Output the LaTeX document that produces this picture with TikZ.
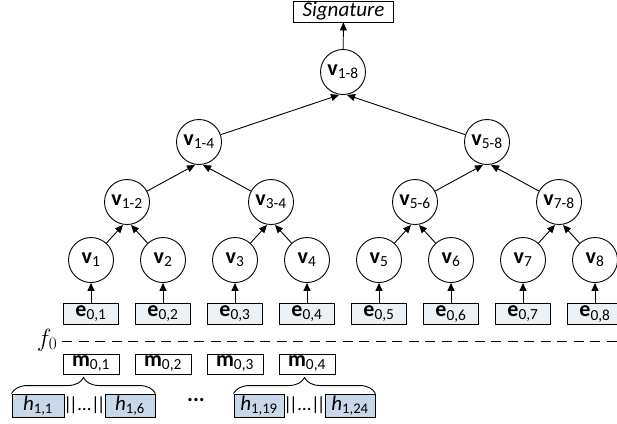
\documentclass[tikz,border=0pt]{standalone}
\usepackage{fontspec}
\setmainfont{Carlito}
\usetikzlibrary{arrows.meta,decorations.pathreplacing}
\definecolor{eFill}{RGB}{236,241,245}
\definecolor{hFill}{RGB}{200,216,232}
\newcommand{\vlab}[1]{\textbf{v}\textsubscript{#1}}
\newcommand{\elab}[1]{\textbf{e}\textsubscript{0,#1}}
\newcommand{\mlab}[1]{\textbf{m}\textsubscript{0,#1}}
\newcommand{\hlab}[1]{\textit{h}\textsubscript{1,#1}}
\newcommand{\bars}{\textbar\kern-3pt\textbar}

\begin{document}
\begin{tikzpicture}[x=1pt,y=-1pt,line width=0.9pt,>={Triangle[length=8pt,width=7pt]},
  font=\fontsize{22}{26}\selectfont,
  v node/.style={circle,draw,minimum size=45pt,inner sep=0pt},
  e node/.style={draw,fill=eFill,minimum width=55pt,minimum height=21pt,inner sep=0pt},
  m node/.style={draw,fill=white,minimum width=56pt,minimum height=20pt,inner sep=0pt},
  h node/.style={draw,fill=hFill,minimum height=23pt,inner sep=0pt,font=\fontsize{21}{24}\selectfont},
  sep/.style={inner sep=0pt,font=\fontsize{19}{22}\selectfont},
  sig node/.style={draw,minimum width=100pt,minimum height=21pt,inner sep=0pt,font=\fontsize{21}{24}\selectfont},
  hbrace/.style={decorate,decoration={brace,amplitude=16pt}}]
  \useasboundingbox (0,0) rectangle (617,423);

  % leaves and inputs
  \foreach \i/\x in {1/91,2/163,3/235,4/307,5/379,6/451,7/523,8/595} {
    \node[v node] at (\x,260) (v\i) {\vlab{\i}};
    \node[e node] at (\x,314) (e\i) {\elab{\i}};
    \draw[->] (e\i) -- (v\i);
  }

  % inner nodes
  \node[v node] at (127,202) (v12) {\vlab{1-2}};
  \node[v node] at (271,202) (v34) {\vlab{3-4}};
  \node[v node] at (415,202) (v56) {\vlab{5-6}};
  \node[v node] at (559,202) (v78) {\vlab{7-8}};
  \node[v node] at (199,142) (v14) {\vlab{1-4}};
  \node[v node] at (487,142) (v58) {\vlab{5-8}};
  \node[v node] at (343,72) (v18) {\vlab{1-8}};
  \node[sig node] at (343.5,11.5) (sig) {\textit{Signature}};

  \draw[->] (v1) -- ([xshift=-4pt]v12.south);
  \draw[->] (v2) -- ([xshift=4pt]v12.south);
  \draw[->] (v3) -- ([xshift=-4pt]v34.south);
  \draw[->] (v4) -- ([xshift=4pt]v34.south);
  \draw[->] (v5) -- ([xshift=-4pt]v56.south);
  \draw[->] (v6) -- ([xshift=4pt]v56.south);
  \draw[->] (v7) -- ([xshift=-4pt]v78.south);
  \draw[->] (v8) -- ([xshift=4pt]v78.south);
  \draw[->] (v12) -- ([xshift=-4pt]v14.south);
  \draw[->] (v34) -- ([xshift=4pt]v14.south);
  \draw[->] (v56) -- ([xshift=-4pt]v58.south);
  \draw[->] (v78) -- ([xshift=4pt]v58.south);
  \draw[->] (v14) -- ([xshift=-4pt]v18.south);
  \draw[->] (v58) -- ([xshift=4pt]v18.south);
  \draw[->] (v18) -- (sig);

  % f0 line
  \node[font=\fontsize{25}{28}\selectfont,inner sep=0pt] at (47,340) (f0) {$f_0$};
  \coordinate (dl) at (62,341);
  \coordinate (dr) at (617,341);
  \draw[dash pattern=on 10pt off 6.5pt] (dl) -- (dr);

  % messages
  \foreach \i/\x in {1/91,2/163,3/235,4/307}
    \node[m node] at (\x,364) (m\i) {\mlab{\i}};

  \node[h node,minimum width=52pt] at (38,405.5) (h1) {\hlab{1}};
  \node[sep] at (84.5,405.5) (s1) {\bars\ldots\bars};
  \node[h node,minimum width=50pt] at (130,405.5) (h6) {\hlab{6}};
  \node at (196,400) (dots) {\textbf{...}};
  \node[h node,minimum width=50pt] at (259,405.5) (h19) {\hlab{19}};
  \node[sep] at (304.5,405.5) (s2) {\bars\ldots\bars};
  \node[h node,minimum width=50pt] at (350,405.5) (h24) {\hlab{24}};

  \draw[hbrace] (h1.north west) -- (h6.north east);
  \draw[hbrace] (h19.north west) -- (h24.north east);
\end{tikzpicture}
\end{document}
